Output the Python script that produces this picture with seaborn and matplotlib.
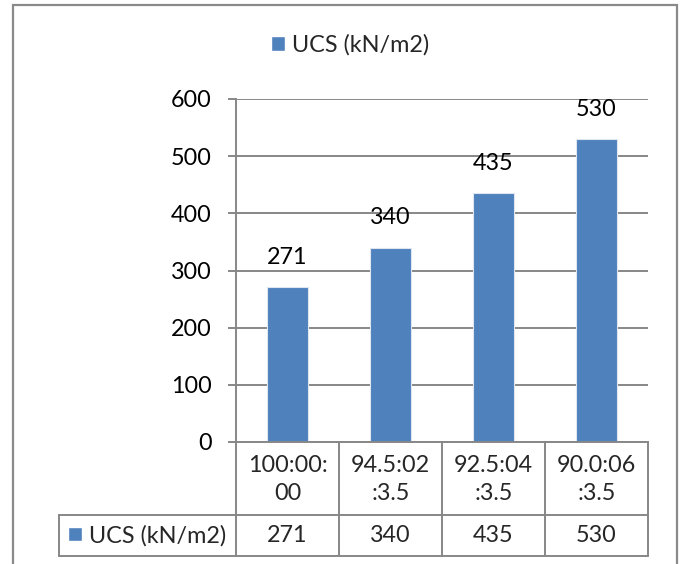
import textwrap
import numpy as np
import pandas as pd
import seaborn as sns
import matplotlib
matplotlib.use("Agg")
import matplotlib.pyplot as plt
from matplotlib.patches import Rectangle, Patch
from matplotlib.lines import Line2D

# ---- data ----
categories = ["100:00:00", "94.5:02:3.5", "92.5:04:3.5", "90.0:06:3.5"]
ucs_values = [271, 340, 435, 530]
series_name = "UCS (kN/m2)"
y_ticks = [0, 100, 200, 300, 400, 500, 600]

BAR_COLOR = "#4F81BD"
GRID = "#878787"
FS = 16.8

sns.set_style("white")
plt.rcParams["font.family"] = ["Lato", "DejaVu Sans"]

W, H = 683, 564
fig = plt.figure(figsize=(W / 100, H / 100), dpi=100)
fig.patch.set_facecolor("white")

def fx(px):
    return px / W

def fy(py):
    return 1 - py / H

ax_l, ax_r, ax_t, ax_b = 236, 648, 99, 442
ax = fig.add_axes([fx(ax_l), fy(ax_b), fx(ax_r) - fx(ax_l), fy(ax_t) - fy(ax_b)])

df = pd.DataFrame({"cat": categories, "val": ucs_values})
sns.barplot(data=df, x="cat", y="val", color=BAR_COLOR, saturation=1,
            width=0.39, ax=ax, edgecolor="#dfe6f0", linewidth=0.8)

ax.set_xlim(-0.5, len(categories) - 0.5)
ax.set_ylim(y_ticks[0], y_ticks[-1])
ax.set_yticks(y_ticks)
ax.set_yticklabels([str(t) for t in y_ticks])
ax.set_xticks([])
ax.set_xlabel("")
ax.set_ylabel("")
ax.yaxis.grid(True, color=GRID, lw=1.4)
ax.set_axisbelow(True)
for s in ["top", "right"]:
    ax.spines[s].set_visible(False)
for s in ["left", "bottom"]:
    ax.spines[s].set_color(GRID)
    ax.spines[s].set_linewidth(1.4)
ax.tick_params(axis="y", length=5.5, width=1.4, color=GRID, pad=12, labelsize=FS,
               labelcolor="black", left=True)

ax.bar_label(ax.containers[0], labels=[str(v) for v in ucs_values], padding=14,
             fontsize=FS, color="black")

# ---- data table below the axes ----
px_per_unit = (ax_r - ax_l) / len(categories)
row1_bot, row2_bot = 515, 556
legend_cell_left = 59
line_kw = dict(color=GRID, lw=1.4, transform=fig.transFigure, clip_on=False)

col_edges = [ax_l + i * px_per_unit for i in range(len(categories) + 1)]
for xe in col_edges:
    fig.add_artist(Line2D([fx(xe), fx(xe)], [fy(ax_b), fy(row2_bot)], **line_kw))
fig.add_artist(Line2D([fx(legend_cell_left), fx(legend_cell_left)], [fy(row1_bot), fy(row2_bot)], **line_kw))
fig.add_artist(Line2D([fx(legend_cell_left), fx(ax_r)], [fy(row1_bot), fy(row1_bot)], **line_kw))
fig.add_artist(Line2D([fx(legend_cell_left), fx(ax_r)], [fy(row2_bot), fy(row2_bot)], **line_kw))

for i, (c, v) in enumerate(zip(categories, ucs_values)):
    cx = (col_edges[i] + col_edges[i + 1]) / 2
    fig.text(fx(cx), fy((ax_b + row1_bot) / 2 + 1), textwrap.fill(c, 7), ha="center", va="center",
             fontsize=FS, linespacing=1.4)
    fig.text(fx(cx), fy((row1_bot + row2_bot) / 2), str(v), ha="center", va="center", fontsize=FS)

fig.legend(handles=[Patch(facecolor=BAR_COLOR)], labels=[series_name], loc="center",
           bbox_to_anchor=(fx((legend_cell_left + ax_l) / 2), fy((row1_bot + row2_bot) / 2)),
           frameon=False, fontsize=FS, handlelength=0.6, handleheight=0.6, handletextpad=0.3,
           borderpad=0, borderaxespad=0)

# ---- top legend ----
fig.legend(handles=[Patch(facecolor=BAR_COLOR)], labels=[series_name], loc="center",
           bbox_to_anchor=(fx(350), fy(45)), frameon=False, fontsize=FS,
           handlelength=0.6, handleheight=0.6, handletextpad=0.3, borderpad=0, borderaxespad=0)

# ---- chart frame ----
fig.add_artist(Rectangle((fx(13), fy(580)), fx(677) - fx(13), fy(5) - fy(580), fill=False,
                         edgecolor="#8a8a8a", lw=1.6, transform=fig.transFigure, clip_on=False))

fig.savefig("out.png", dpi=100, facecolor="white")
